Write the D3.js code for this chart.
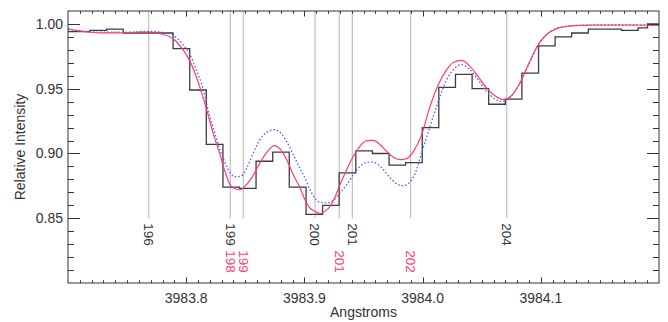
<!DOCTYPE html>
<html>
<head>
<meta charset="utf-8">
<script src="https://cdn.jsdelivr.net/npm/d3@7"></script>
<style>
  html, body { margin: 0; padding: 0; background: #fff; }
  svg { display: block; font-family: "Liberation Sans", Arial, Helvetica, sans-serif; }
</style>
</head>
<body>
<svg id="chart" width="668" height="322"></svg>
<script>
// Observed spectrum: bin edges (Angstroms) and relative intensity per bin
const binEdges = [
  3983.6901, 3983.7046, 3983.7186, 3983.7327, 3983.7467, 3983.7608, 3983.7749,
  3983.7889, 3983.8030, 3983.8170, 3983.8311, 3983.8451, 3983.8591, 3983.8732,
  3983.8872, 3983.9014, 3983.9154, 3983.9294, 3983.9435, 3983.9575, 3983.9716,
  3983.9856, 3983.9997, 3984.0137, 3984.0278, 3984.0419, 3984.0559, 3984.0700,
  3984.0840, 3984.0981, 3984.1121, 3984.1261, 3984.1402, 3984.1542, 3984.1683,
  3984.1823, 3984.1903, 3984.2051
];
const binFlux = [
  0.994, 0.994, 0.995, 0.996, 0.993, 0.993, 0.993,
  0.981, 0.949, 0.907, 0.874, 0.873, 0.894, 0.901,
  0.874, 0.853, 0.860, 0.885, 0.902, 0.900, 0.891,
  0.893, 0.920, 0.951, 0.961, 0.950, 0.938, 0.942,
  0.962, 0.983, 0.990, 0.993, 0.996, 0.996, 0.995,
  0.997, 1.000
];

// Model profile A (solid red)
const modelAWave = [
  3983.7000, 3983.7144, 3983.7271, 3983.7440, 3983.7609, 3983.7694, 3983.7778,
  3983.7880, 3983.7973, 3983.8032, 3983.8117, 3983.8168, 3983.8229, 3983.8286,
  3983.8328, 3983.8371, 3983.8413, 3983.8455, 3983.8497, 3983.8554, 3983.8624,
  3983.8681, 3983.8745, 3983.8794, 3983.8850, 3983.8906, 3983.8963, 3983.9005,
  3983.9047, 3983.9090, 3983.9132, 3983.9174, 3983.9217, 3983.9259, 3983.9301,
  3983.9358, 3983.9414, 3983.9470, 3983.9527, 3983.9583, 3983.9640, 3983.9697,
  3983.9753, 3983.9809, 3983.9866, 3983.9921, 3983.9992, 3984.0063, 3984.0133,
  3984.0204, 3984.0260, 3984.0328, 3984.0401, 3984.0469, 3984.0540, 3984.0612,
  3984.0683, 3984.0751, 3984.0824, 3984.0894, 3984.0979, 3984.1047, 3984.1132,
  3984.1218, 3984.1332, 3984.1500, 3984.1750, 3984.2000
];
const modelAFlux = [
  0.9961, 0.9940, 0.9931, 0.9931, 0.9937, 0.9938, 0.9925,
  0.9892, 0.9802, 0.9711, 0.9508, 0.9354, 0.9153, 0.8991,
  0.8862, 0.8759, 0.8728, 0.8720, 0.8746, 0.8811, 0.8927,
  0.9008, 0.9060, 0.9035, 0.8952, 0.8836, 0.8734, 0.8643,
  0.8579, 0.8553, 0.8535, 0.8553, 0.8592, 0.8664, 0.8759,
  0.8875, 0.8978, 0.9055, 0.9099, 0.9101, 0.9068, 0.9016,
  0.8970, 0.8952, 0.8960, 0.9014, 0.9145, 0.9364, 0.9531,
  0.9647, 0.9703, 0.9719, 0.9673, 0.9595, 0.9506, 0.9446,
  0.9415, 0.9446, 0.9544, 0.9686, 0.9840, 0.9917, 0.9964,
  0.9981, 0.9989, 0.9992, 0.9992, 0.9989
];

// Model profile B (dotted blue)
const modelBWave = [
  3983.7000, 3983.7271, 3983.7525, 3983.7694, 3983.7778, 3983.7880, 3983.7973,
  3983.8032, 3983.8091, 3983.8144, 3983.8180, 3983.8229, 3983.8286, 3983.8343,
  3983.8385, 3983.8427, 3983.8469, 3983.8512, 3983.8568, 3983.8624, 3983.8681,
  3983.8751, 3983.8805, 3983.8850, 3983.8906, 3983.8963, 3983.9005, 3983.9047,
  3983.9090, 3983.9132, 3983.9188, 3983.9244, 3983.9301, 3983.9358, 3983.9414,
  3983.9470, 3983.9527, 3983.9569, 3983.9626, 3983.9679, 3983.9739, 3983.9794,
  3983.9838, 3983.9879, 3983.9936, 3983.9992, 3984.0063, 3984.0133, 3984.0204,
  3984.0274, 3984.0328, 3984.0401, 3984.0469, 3984.0540, 3984.0612, 3984.0667,
  3984.0736, 3984.0807, 3984.0892, 3984.0979, 3984.1047, 3984.1132, 3984.1218,
  3984.1332, 3984.1500, 3984.1750, 3984.2000
];
const modelBFlux = [
  0.9961, 0.9937, 0.9937, 0.9943, 0.9938, 0.9917, 0.9840,
  0.9763, 0.9632, 0.9498, 0.9354, 0.9197, 0.9029, 0.8900,
  0.8836, 0.8819, 0.8829, 0.8888, 0.9004, 0.9107, 0.9163,
  0.9184, 0.9153, 0.9093, 0.8991, 0.8883, 0.8811, 0.8720,
  0.8656, 0.8622, 0.8618, 0.8638, 0.8695, 0.8759, 0.8836,
  0.8900, 0.8931, 0.8934, 0.8913, 0.8862, 0.8798, 0.8759,
  0.8751, 0.8767, 0.8844, 0.9004, 0.9209, 0.9402, 0.9570,
  0.9660, 0.9686, 0.9647, 0.9570, 0.9480, 0.9421, 0.9402,
  0.9429, 0.9518, 0.9673, 0.9840, 0.9917, 0.9964, 0.9981,
  0.9989, 0.9992, 0.9992, 0.9989
];

// Line identifications
const blackIdWave  = [3983.7683, 3983.8373, 3983.9090, 3983.9405, 3984.0712];
const blackIdLabel = ["196", "199", "200", "201", "204"];
const redIdWave    = [3983.8373, 3983.8483, 3983.9295, 3983.9899];
const redIdLabel   = ["198", "199", "201", "202"];

// Axis ticks
const xMajorTicks = [3983.8, 3983.9, 3984.0, 3984.1];
const xTickLabels = ["3983.8", "3983.9", "3984.0", "3984.1"];
const yMajorTicks = [0.85, 0.90, 0.95, 1.00];
const yTickLabels = ["0.85", "0.90", "0.95", "1.00"];

const svg = d3.select("#chart");
const margin = { left: 68, right: 9, top: 11, bottom: 39 };
const W = 668, H = 322;
const x0 = margin.left, x1 = W - margin.right, y0 = margin.top, y1 = H - margin.bottom;

const x = d3.scaleLinear().domain([3983.70, 3984.20]).range([x0, x1]);
const y = d3.scaleLinear().domain([0.80, 1.01]).range([y1, y0]);

const ink = "#333";
const redCol = "#ff3d6e";
const blueCol = "#5b5bff";

svg.append("defs").append("clipPath").attr("id", "plotclip")
  .append("rect").attr("x", x0).attr("y", y0).attr("width", x1 - x0).attr("height", y1 - y0);

const plot = svg.append("g").attr("clip-path", "url(#plotclip)");

// Identification marker lines
const allIdWave = Array.from(new Set(blackIdWave.concat(redIdWave)));
plot.selectAll("line.id").data(allIdWave).join("line")
  .attr("class", "id")
  .attr("x1", d => x(d)).attr("x2", d => x(d))
  .attr("y1", y0).attr("y2", y(0.85))
  .attr("stroke", "#b4b4b4").attr("stroke-width", 1);

// Observed histogram
const stepPts = binFlux.map((f, i) => [binEdges[i], f]);
stepPts.push([binEdges[binEdges.length - 1], binFlux[binFlux.length - 1]]);
plot.append("path")
  .attr("d", d3.line().x(d => x(d[0])).y(d => y(d[1])).curve(d3.curveStepAfter)(stepPts))
  .attr("fill", "none").attr("stroke", "#3c3c3c").attr("stroke-width", 1.3);

// Model curves
const curve = d3.line().x(d => x(d[0])).y(d => y(d[1])).curve(d3.curveMonotoneX);
plot.append("path")
  .attr("d", curve(modelBWave.map((w, i) => [w, modelBFlux[i]])))
  .attr("fill", "none").attr("stroke", blueCol).attr("stroke-width", 1.3)
  .attr("stroke-dasharray", "1.6,2");
plot.append("path")
  .attr("d", curve(modelAWave.map((w, i) => [w, modelAFlux[i]])))
  .attr("fill", "none").attr("stroke", redCol).attr("stroke-width", 1.2);

// Identification labels (rotated, reading downward)
const idLabels = svg.append("g").attr("font-size", 13.5);
blackIdWave.forEach((w, i) => {
  idLabels.append("text")
    .attr("transform", `translate(${x(w)},${y(0.85) + 5}) rotate(90)`)
    .attr("dy", "0.35em").attr("fill", ink).text(blackIdLabel[i]);
});
redIdWave.forEach((w, i) => {
  idLabels.append("text")
    .attr("transform", `translate(${x(w)},${y(0.85) + 32}) rotate(90)`)
    .attr("dy", "0.35em").attr("fill", redCol).text(redIdLabel[i]);
});

// Frame
const axes = svg.append("g").attr("stroke", ink).attr("stroke-width", 1);
axes.append("rect").attr("x", x0).attr("y", y0).attr("width", x1 - x0).attr("height", y1 - y0)
  .attr("fill", "none");

// Minor and major ticks on all four sides
const xMinor = d3.range(3983.71, 3984.195, 0.01).map(v => +v.toFixed(2));
const yMinor = d3.range(0.81, 1.005, 0.01).map(v => +v.toFixed(2));
const xMajLen = 5.5, xMinLen = 2.8, yMajLen = 12, yMinLen = 6;
const isMajorX = v => xMajorTicks.some(t => Math.abs(t - v) < 1e-6);
const isMajorY = v => yMajorTicks.some(t => Math.abs(t - v) < 1e-6);

xMinor.forEach(v => {
  const L = isMajorX(v) ? xMajLen : xMinLen;
  const px = Math.round(x(v)) + 0.5;
  axes.append("line").attr("x1", px).attr("x2", px).attr("y1", y1).attr("y2", y1 - L);
  axes.append("line").attr("x1", px).attr("x2", px).attr("y1", y0).attr("y2", y0 + L);
});
yMinor.forEach(v => {
  const L = isMajorY(v) ? yMajLen : yMinLen;
  const py = Math.round(y(v)) + 0.5;
  axes.append("line").attr("x1", x0).attr("x2", x0 + L).attr("y1", py).attr("y2", py);
  axes.append("line").attr("x1", x1).attr("x2", x1 - L).attr("y1", py).attr("y2", py);
});

// Tick labels
const labels = svg.append("g").attr("fill", ink).attr("font-size", 14);
xMajorTicks.forEach((v, i) => {
  labels.append("text").attr("x", x(v)).attr("y", y1 + 20)
    .attr("text-anchor", "middle").text(xTickLabels[i]);
});
yMajorTicks.forEach((v, i) => {
  labels.append("text").attr("x", x0 - 5).attr("y", y(v))
    .attr("dy", "0.35em").attr("text-anchor", "end").text(yTickLabels[i]);
});

// Axis titles
labels.append("text").attr("x", (x0 + x1) / 2).attr("y", 317)
  .attr("text-anchor", "middle").text("Angstroms");
labels.append("text")
  .attr("transform", `translate(25,${(y0 + y1) / 2}) rotate(-90)`)
  .attr("text-anchor", "middle").text("Relative Intensity");
</script>
</body>
</html>
